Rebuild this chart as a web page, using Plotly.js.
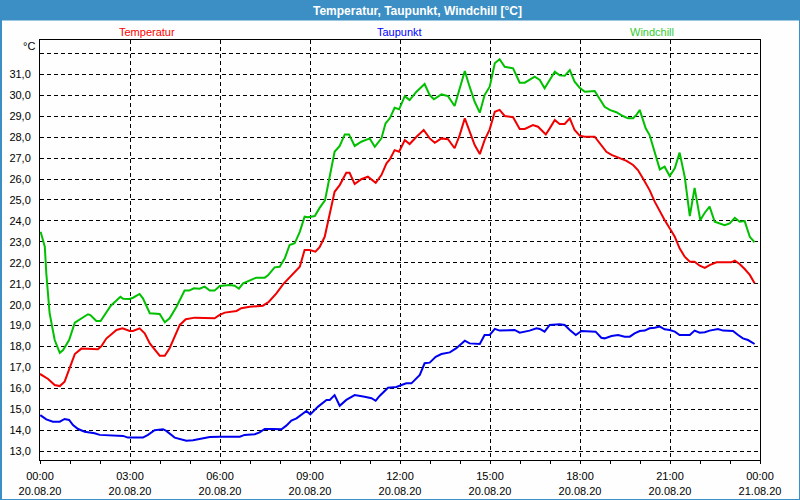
<!DOCTYPE html>
<html>
<head>
<meta charset="utf-8">
<script src="https://cdn.plot.ly/plotly-3.0.1.min.js"></script>
<style>
html,body{margin:0;padding:0;background:#fdfefd;}
#chart{width:800px;height:500px;}
</style>
</head>
<body>
<div id="chart"></div>
<script>
// ---- data (hours since 20.08.20 00:00, °C) ----
const tempHours = [0.0,0.27,0.49,0.66,0.82,0.99,1.16,1.38,1.66,1.93,2.05,2.21,2.55,2.75,2.99,3.1,3.32,3.49,3.66,3.88,3.99,4.16,4.32,4.66,4.86,5.16,5.49,5.82,5.99,6.16,6.55,6.71,6.99,7.43,7.63,7.88,8.1,8.43,8.66,8.82,8.99,9.18,9.32,9.49,9.6,9.82,9.99,10.21,10.32,10.49,10.71,10.93,11.19,11.38,11.55,11.66,11.82,11.97,12.16,12.32,12.55,12.79,12.99,13.16,13.38,13.6,13.82,13.99,14.16,14.32,14.49,14.66,14.82,14.99,15.16,15.32,15.49,15.77,15.99,16.16,16.43,16.6,16.86,16.99,17.16,17.32,17.49,17.66,17.82,17.99,18.16,18.49,18.66,18.88,19.05,19.32,19.55,19.77,19.93,20.1,20.32,20.49,20.66,20.82,20.99,21.16,21.32,21.49,21.66,21.82,21.99,22.16,22.32,22.55,22.88,23.04,23.16,23.32,23.49,23.66,23.82];
const tempValues = [16.69,16.45,16.16,16.11,16.32,17.0,17.64,17.9,17.87,17.87,18.02,18.38,18.79,18.87,18.74,18.74,18.87,18.63,18.15,17.75,17.56,17.56,17.92,19.03,19.3,19.38,19.35,19.35,19.51,19.62,19.7,19.83,19.9,19.95,20.14,20.54,20.97,21.45,21.81,22.61,22.61,22.53,22.74,23.24,23.96,25.39,25.71,26.3,26.3,25.76,25.99,26.11,25.82,26.19,26.75,26.94,27.38,27.3,27.86,27.67,28.02,28.34,27.94,27.73,27.94,27.9,27.47,28.1,28.9,28.26,27.62,27.19,27.86,28.37,29.21,29.3,29.01,28.95,28.39,28.39,28.58,28.5,28.13,28.42,28.82,28.63,28.63,28.9,28.34,28.07,28.02,28.02,27.7,27.3,27.15,26.99,26.87,26.67,26.43,26.03,25.47,24.92,24.44,24.04,23.65,23.24,22.69,22.29,22.05,22.05,21.86,21.76,21.89,22.02,22.02,22.02,22.1,21.94,21.7,21.42,21.02];

const dewHours = [0.01,0.21,0.43,0.66,0.82,0.97,1.1,1.27,1.49,1.82,1.99,2.43,2.77,2.93,3.43,3.6,3.82,4.1,4.21,4.49,4.66,4.88,5.1,5.32,5.66,5.99,6.32,6.66,6.82,7.16,7.32,7.49,7.77,8.05,8.21,8.38,8.55,8.77,8.88,9.01,9.27,9.55,9.66,9.82,9.99,10.21,10.49,10.82,11.05,11.19,11.32,11.6,11.88,12.05,12.21,12.38,12.66,12.82,12.99,13.19,13.38,13.66,13.88,14.16,14.32,14.66,14.82,14.99,15.16,15.32,15.66,15.82,15.99,16.32,16.55,16.66,16.82,16.99,17.32,17.49,17.66,17.86,18.05,18.52,18.71,18.82,19.05,19.27,19.49,19.66,19.82,19.99,20.16,20.32,20.49,20.66,20.82,20.99,21.16,21.32,21.66,21.82,21.99,22.16,22.32,22.6,22.77,23.1,23.27,23.43,23.6,23.82];
const dewValues = [14.72,14.52,14.41,14.41,14.54,14.49,14.25,14.06,13.93,13.86,13.78,13.74,13.73,13.65,13.65,13.78,14.0,14.05,13.97,13.65,13.57,13.5,13.52,13.58,13.68,13.69,13.68,13.69,13.78,13.81,13.9,14.06,14.06,14.05,14.22,14.46,14.57,14.81,14.92,14.76,15.13,15.45,15.45,15.68,15.17,15.45,15.68,15.6,15.53,15.41,15.64,16.03,16.07,16.16,16.24,16.24,16.64,17.2,17.23,17.51,17.64,17.72,17.92,18.28,18.15,18.12,18.55,18.55,18.84,18.76,18.76,18.79,18.66,18.76,18.87,18.84,18.71,19.03,19.06,19.03,18.79,18.55,18.74,18.71,18.42,18.39,18.5,18.55,18.47,18.47,18.63,18.74,18.76,18.87,18.9,18.95,18.82,18.79,18.71,18.55,18.55,18.76,18.66,18.68,18.76,18.84,18.76,18.74,18.55,18.39,18.31,18.12];

const windHours = [0.02,0.16,0.21,0.32,0.49,0.66,0.77,0.97,1.16,1.38,1.6,1.68,1.88,2.02,2.16,2.36,2.68,2.77,2.99,3.1,3.32,3.43,3.66,3.99,4.16,4.32,4.55,4.82,4.97,5.13,5.32,5.49,5.66,5.82,5.99,6.32,6.49,6.63,6.77,6.99,7.21,7.49,7.6,7.82,7.99,8.16,8.32,8.49,8.66,8.82,8.93,9.16,9.32,9.5,9.66,9.82,9.99,10.16,10.3,10.49,10.71,10.99,11.16,11.38,11.52,11.66,11.82,11.97,12.16,12.32,12.55,12.82,12.99,13.13,13.38,13.6,13.82,13.99,14.16,14.32,14.49,14.66,14.82,14.99,15.16,15.32,15.49,15.77,15.99,16.16,16.49,16.66,16.82,16.99,17.16,17.32,17.49,17.66,17.82,17.99,18.16,18.49,18.66,18.82,18.99,19.21,19.43,19.6,19.77,19.88,19.99,20.1,20.19,20.32,20.49,20.66,20.82,20.99,21.16,21.32,21.49,21.66,21.82,22.01,22.16,22.32,22.49,22.82,22.99,23.16,23.32,23.49,23.66,23.82];
const windValues = [23.48,22.77,21.5,19.59,18.31,17.7,17.83,18.31,19.14,19.35,19.54,19.5,19.22,19.22,19.51,19.95,20.38,20.28,20.27,20.33,20.51,20.3,19.59,19.55,19.16,19.35,19.9,20.67,20.67,20.78,20.76,20.86,20.67,20.67,20.89,20.94,20.9,20.76,21.02,21.14,21.29,21.29,21.4,21.78,21.81,22.21,22.85,22.93,23.48,24.2,24.17,24.23,24.62,24.98,26.2,27.3,27.58,28.13,28.13,27.58,27.78,27.94,27.54,27.94,28.66,28.9,29.4,29.33,29.96,29.77,30.17,30.54,30.01,29.81,30.04,29.96,29.49,30.33,31.16,30.41,29.69,29.17,30.01,30.41,31.53,31.72,31.36,31.29,30.6,30.6,30.89,30.73,30.33,30.73,31.12,30.95,30.93,31.2,30.65,30.36,30.17,30.2,29.81,29.45,29.3,29.19,29.01,28.9,28.9,29.06,29.3,28.82,28.42,28.1,27.23,26.46,26.59,26.14,26.51,27.26,26.11,24.23,25.58,24.04,24.39,24.68,23.96,23.8,23.88,24.15,23.96,23.99,23.24,22.98];

const seriesNames = ["Temperatur", "Taupunkt", "Windchill"];
const xTickVals = [0, 3, 6, 9, 12, 15, 18, 21, 24];
const xTickLabels = ["00:00<br>20.08.20","03:00<br>20.08.20","06:00<br>20.08.20","09:00<br>20.08.20","12:00<br>20.08.20","15:00<br>20.08.20","18:00<br>20.08.20","21:00<br>20.08.20","00:00<br>21.08.20"];
const yTickVals = [13,14,15,16,17,18,19,20,21,22,23,24,25,26,27,28,29,30,31,32];
const yTickLabels = ["13,0","14,0","15,0","16,0","17,0","18,0","19,0","20,0","21,0","22,0","23,0","24,0","25,0","26,0","27,0","28,0","29,0","30,0","31,0",""];
const chartTitle = "Temperatur, Taupunkt, Windchill [°C]";
const unitLabel = "°C";

// ---- styles ----
const FONT = '"Liberation Sans", Arial, sans-serif';
const lineColors = ["#f00000", "#0000f0", "#00c000"];
const labelColors = ["#ff0000", "#0000ff", "#33cc33"];
const BAR = "#3c8fc4";

// pixel -> paper helpers (plot area: x 40..760, y 40..460)
const px = v => (v - 40) / 720;
const py = v => (460 - v) / 420;

const traces = [
  {x: tempHours, y: tempValues, name: seriesNames[0]},
  {x: dewHours, y: dewValues, name: seriesNames[1]},
  {x: windHours, y: windValues, name: seriesNames[2]}
].map((t, i) => Object.assign(t, {
  type: "scatter", mode: "lines",
  line: {color: lineColors[i], width: 2},
  hoverinfo: "skip"
}));

const labelX = [147, 399, 652];
const annotations = seriesNames.map((n, i) => ({
  text: n, xref: "paper", yref: "paper", x: px(labelX[i]), y: py(32),
  xanchor: "center", yanchor: "middle", showarrow: false,
  font: {family: FONT, size: 11, color: labelColors[i]}
}));
annotations.push({
  text: "<b>" + chartTitle + "</b>", xref: "paper", yref: "paper",
  x: px(417), y: py(10.5), xanchor: "center", yanchor: "middle", showarrow: false,
  font: {family: FONT, size: 12, color: "#ffffff"}
});
annotations.push({
  text: unitLabel, xref: "paper", yref: "paper",
  x: px(37), y: py(46), xanchor: "right", yanchor: "middle", showarrow: false,
  font: {family: FONT, size: 11, color: "#000000"}
});

const shapes = [
  {type: "rect", xref: "paper", yref: "paper", x0: px(0), x1: px(800), y0: py(20.5), y1: py(0),
   fillcolor: BAR, line: {width: 0}, layer: "below"},
  {type: "rect", xref: "paper", yref: "paper", x0: px(0), x1: px(2), y0: py(500), y1: py(0),
   fillcolor: BAR, line: {width: 0}, layer: "below"},
  {type: "rect", xref: "paper", yref: "paper", x0: px(799), x1: px(800), y0: py(500), y1: py(0),
   fillcolor: BAR, line: {width: 0}, layer: "below"},
  {type: "rect", xref: "paper", yref: "paper", x0: px(0), x1: px(800), y0: py(500), y1: py(499),
   fillcolor: BAR, line: {width: 0}, layer: "below"}
];

const layout = {
  width: 800, height: 500,
  margin: {l: 40, r: 40, t: 40, b: 40, pad: 0},
  paper_bgcolor: "#fdfefd", plot_bgcolor: "#fdfefd",
  showlegend: false,
  hovermode: false,
  font: {family: FONT, size: 11, color: "#000000"},
  xaxis: {
    range: [0, 24], tickmode: "array", tickvals: xTickVals, ticktext: xTickLabels,
    showline: true, mirror: true, linecolor: "#000000", linewidth: 1,
    ticks: "outside", ticklen: 3, tickcolor: "#000000", tickwidth: 1,
    showgrid: true, gridcolor: "#000000", gridwidth: 1, griddash: "4px,3px",
    minor: {dtick: 1, ticks: "outside", ticklen: 3, tickcolor: "#000000", showgrid: false},
    zeroline: false, fixedrange: true, ticklabelstandoff: 3,
    tickfont: {family: FONT, size: 11, color: "#000000"}
  },
  yaxis: {
    range: [12.58, 32.64], tickmode: "array", tickvals: yTickVals, ticktext: yTickLabels,
    showline: true, mirror: true, linecolor: "#000000", linewidth: 1,
    ticks: "", showgrid: true, gridcolor: "#000000", gridwidth: 1, griddash: "4px,3px",
    zeroline: false, fixedrange: true, ticklabelstandoff: 6,
    tickfont: {family: FONT, size: 11, color: "#000000"}
  },
  annotations: annotations,
  shapes: shapes
};

Plotly.newPlot("chart", traces, layout, {displayModeBar: false, staticPlot: true});
</script>
</body>
</html>
